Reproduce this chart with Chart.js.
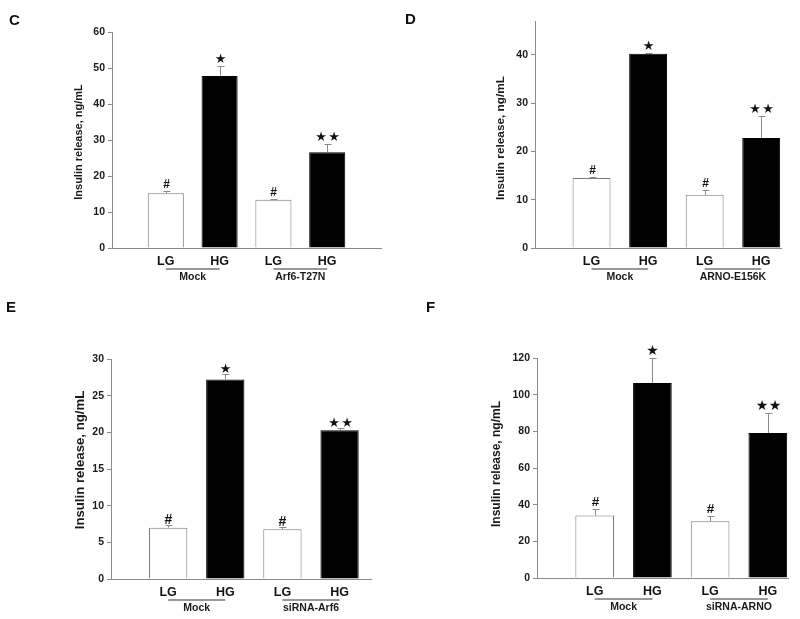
<!DOCTYPE html>
<html>
<head>
<meta charset="utf-8">
<script src="https://cdn.jsdelivr.net/npm/chart.js@4.4.1/dist/chart.umd.min.js"></script>
<style>
  html, body { margin: 0; padding: 0; background: #fff; }
  #wrap { position: relative; width: 800px; height: 619px; overflow: hidden; }
  canvas { position: absolute; }
</style>
</head>
<body>
<div id="wrap">
  <canvas id="cC" width="400" height="290" style="left:0;top:0"></canvas>
  <canvas id="cD" width="400" height="290" style="left:400px;top:0"></canvas>
  <canvas id="cE" width="400" height="329" style="left:0;top:290px"></canvas>
  <canvas id="cF" width="400" height="329" style="left:400px;top:290px"></canvas>
</div>
<script>
/* ─── data ─────────────────────────────────────────────────────────────── */
const conditions = ['LG', 'HG', 'LG', 'HG'];
const marks = ['#', '*', '#', '**'];
const yTitle = 'Insulin release, ng/mL';

const groupsC = ['Mock', 'Arf6-T27N'];
const meanC = [15.2, 47.8, 13.4, 26.6];
const semC = [0.7, 2.8, 0.2, 2.4];
const ticksC = [0, 10, 20, 30, 40, 50, 60];

const groupsD = ['Mock', 'ARNO-E156K'];
const meanD = [14.5, 40.2, 11.0, 22.8];
const semD = [0.15, 0.2, 1.1, 4.6];
const ticksD = [0, 10, 20, 30, 40];

const groupsE = ['Mock', 'siRNA-Arf6'];
const meanE = [7.0, 27.2, 6.8, 20.3];
const semE = [0.3, 0.7, 0.3, 0.35];
const ticksE = [0, 5, 10, 15, 20, 25, 30];

const groupsF = ['Mock', 'siRNA-ARNO'];
const meanF = [34.1, 106.4, 31.0, 79.1];
const semF = [3.3, 13.4, 2.8, 10.8];
const ticksF = [0, 20, 40, 60, 80, 100, 120];

const FONT = "'Liberation Sans', Arial, sans-serif";
const AXIS_GREY = '#8a8a8a';
const TEXT = '#1a1a1a';

/* draws error bars, significance marks, group underlines, y title, panel letter */
const panelDecor = {
    id: 'panelDecor',
    afterDatasetsDraw(chart, args, o) {
        const ctx = chart.ctx;
        const y = chart.scales.y;
        const area = chart.chartArea;
        const bars = chart.getDatasetMeta(0).data;
        ctx.save();

        // error bars (upper whisker only)
        ctx.strokeStyle = '#8c8c8c';
        ctx.lineWidth = 1;
        o.mean.forEach((m, i) => {
            const px = Math.round(bars[i].x) + 0.5;
            const y0 = y.getPixelForValue(m);
            const y1 = Math.round(y.getPixelForValue(m + o.sem[i])) + 0.5;
            ctx.beginPath();
            ctx.moveTo(px, y0);
            ctx.lineTo(px, y1);
            ctx.moveTo(px - 3, y1);
            ctx.lineTo(px + 4, y1);
            ctx.stroke();

            // significance marks
            const my = y1 - o.markGap;
            ctx.fillStyle = '#111';
            ctx.textAlign = 'center';
            ctx.textBaseline = 'middle';
            if (marks[i] === '#') {
                ctx.font = `bold ${o.hashSize}px ${FONT}`;
                ctx.fillText('#', px, my);
            } else {
                ctx.font = `${o.starSize}px 'DejaVu Sans'`;
                if (marks[i] === '*') {
                    ctx.fillText('\u2605', px, my);
                } else {
                    ctx.fillText('\u2605', px - 6.5, my);
                    ctx.fillText('\u2605', px + 6.5, my);
                }
            }
        });

        // group underlines and names
        const base = area.bottom;
        ctx.strokeStyle = '#333';
        ctx.lineWidth = 1.2;
        ctx.fillStyle = TEXT;
        ctx.font = `bold 10.5px ${FONT}`;
        ctx.textAlign = 'center';
        ctx.textBaseline = 'middle';
        o.groups.forEach((g, k) => {
            const a = bars[k * 2].x, b = bars[k * 2 + 1].x;
            ctx.beginPath();
            ctx.moveTo(a, base + 21);
            ctx.lineTo(b, base + 21);
            ctx.stroke();
            ctx.fillText(g, (a + b) / 2, base + 29.5);
        });

        // y axis title
        ctx.save();
        ctx.translate(o.titleX, o.titleY);
        ctx.rotate(-Math.PI / 2);
        ctx.font = `bold ${o.titleSize}px ${FONT}`;
        ctx.fillStyle = TEXT;
        ctx.fillText(yTitle, 0, 0);
        ctx.restore();

        // panel letter
        ctx.font = `bold 15px ${FONT}`;
        ctx.textAlign = 'left';
        ctx.textBaseline = 'alphabetic';
        ctx.fillStyle = '#111';
        ctx.fillText(o.letter, o.letterX, o.letterY);

        ctx.restore();
    }
};

function makePanel(id, p) {
    const ctx = document.getElementById(id);
    return new Chart(ctx, {
        type: 'bar',
        data: {
            datasets: [{
                data: p.mean.map((v, i) => ({ x: i + 1, y: v })),
                backgroundColor: ['#ffffff', '#000000', '#ffffff', '#000000'],
                borderColor: ['#7a7a7a', '#000000', '#7a7a7a', '#000000'],
                borderWidth: 1,
                barPercentage: 0.67,
                categoryPercentage: 1,
            }]
        },
        plugins: [panelDecor],
        options: {
            responsive: false,
            animation: false,
            layout: { padding: p.pad },
            plugins: {
                legend: { display: false },
                tooltip: { enabled: false },
                panelDecor: p,
            },
            scales: {
                x: {
                    type: 'linear',
                    min: 0,
                    max: p.xMax,
                    offset: false,
                    afterBuildTicks: s => { s.ticks = conditions.map((c, i) => ({ value: i + 1 })); },
                    afterFit: s => { s.height = 30; },
                    grid: { display: false, drawTicks: false, offset: false },
                    border: { display: true, color: AXIS_GREY, width: 1 },
                    ticks: {
                        autoSkip: false,
                        maxRotation: 0,
                        padding: 6,
                        color: '#111',
                        font: { family: FONT, size: 12.5, weight: 'bold' },
                        callback: v => conditions[v - 1] || '',
                    },
                },
                y: {
                    min: 0,
                    max: p.yMax,
                    afterBuildTicks: s => { s.ticks = p.ticks.map(v => ({ value: v })); },
                    afterFit: s => { s.width = 40; },
                    grid: { drawOnChartArea: false, drawTicks: true, tickLength: 4, color: AXIS_GREY },
                    border: { display: true, color: AXIS_GREY, width: 1 },
                    ticks: {
                        padding: 3,
                        color: TEXT,
                        font: { family: FONT, size: 10.5, weight: 'bold' },
                    },
                },
            },
        },
    });
}

makePanel('cC', {
    mean: meanC, sem: semC, groups: groupsC, ticks: ticksC, yMax: 60, xMax: 5,
    pad: { left: 72, right: 19, top: 32, bottom: 12 },
    markGap: 7, hashSize: 12, starSize: 13,
    titleX: 79, titleY: 142, titleSize: 11,
    letter: 'C', letterX: 9, letterY: 25,
});
makePanel('cD', {
    mean: meanD, sem: semD, groups: groupsD, ticks: ticksD, yMax: 47, xMax: 4.35,
    pad: { left: 95, right: 19, top: 21, bottom: 12 },
    markGap: 7, hashSize: 12, starSize: 13,
    titleX: 101, titleY: 138, titleSize: 11.8,
    letter: 'D', letterX: 5, letterY: 24,
});
makePanel('cE', {
    mean: meanE, sem: semE, groups: groupsE, ticks: ticksE, yMax: 30, xMax: 4.55,
    pad: { left: 71, right: 29, top: 69, bottom: 10 },
    markGap: 5, hashSize: 14, starSize: 13,
    titleX: 80, titleY: 170, titleSize: 13.2,
    letter: 'E', letterX: 6, letterY: 22,
});
makePanel('cF', {
    mean: meanF, sem: semF, groups: groupsF, ticks: ticksF, yMax: 120, xMax: 4.35,
    pad: { left: 97, right: 12, top: 68, bottom: 11 },
    markGap: 7, hashSize: 13.5, starSize: 14,
    titleX: 97, titleY: 174, titleSize: 12,
    letter: 'F', letterX: 26, letterY: 22,
});
</script>
</body>
</html>
